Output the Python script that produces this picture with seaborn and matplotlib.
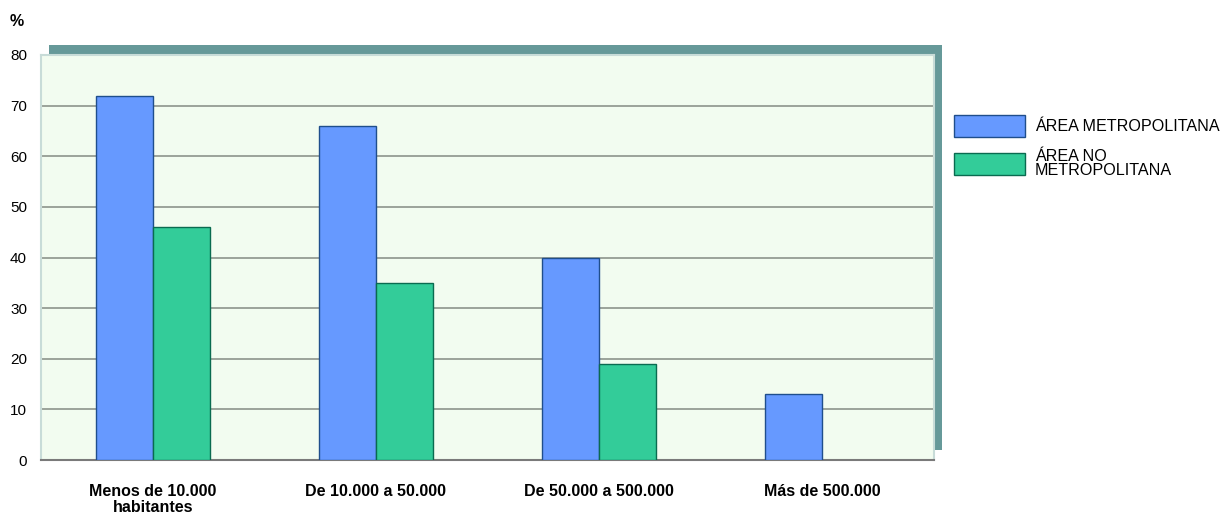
import pandas as pd
import numpy as np
import matplotlib.pyplot as plt
import seaborn as sns
from matplotlib.patches import Rectangle, Patch

categorias = ['Menos de 10.000\nhabitantes', 'De 10.000 a 50.000',
              'De 50.000 a 500.000', 'Más de 500.000']
metropolitana = [72, 66, 40, 13]
no_metropolitana = [46, 35, 19, 0]
series = ['ÁREA METROPOLITANA', 'ÁREA NO\nMETROPOLITANA']

data = pd.DataFrame({
    'cat': categorias * 2,
    'valor': metropolitana + no_metropolitana,
    'area': [series[0]] * 4 + [series[1]] * 4,
})

sns.set_style('white')
plt.rcParams['font.family'] = ['Liberation Sans', 'DejaVu Sans']
plt.rcParams['text.color'] = 'black'
plt.rcParams['xtick.color'] = 'black'
plt.rcParams['ytick.color'] = 'black'

fig = plt.figure(figsize=(12.31, 5.14), dpi=100)
W, H = 1231, 514
ax = fig.add_axes([41 / W, 1 - 460 / H, 893 / W, 405 / H])
ax.set_facecolor('#f2fcf0')

# sombra del marco (offset arriba-derecha)
fig.add_artist(Rectangle((49 / W, 1 - 450 / H), 893 / W, 405 / H,
                         transform=fig.transFigure, facecolor='#669999',
                         edgecolor='none', zorder=-1))

colores = ['#6699ff', '#33cc99']
bordes = ['#1f4e8c', '#0a6b50']
sns.barplot(data=data, x='cat', y='valor', hue='area', palette=colores,
            width=0.51, saturation=1, ax=ax, legend=False, zorder=3)

for i, cont in enumerate(ax.containers):
    for bar in cont:
        bar.set_edgecolor(bordes[i])
        bar.set_linewidth(1)
        if bar.get_height() == 0:
            bar.set_visible(False)

ax.set_ylim(0, 80)
ax.set_xlim(-0.5, 3.5)
ax.set_yticks(range(0, 81, 10))
ax.yaxis.grid(True, color='#8c948c', linewidth=1.2, zorder=0)
ax.set_axisbelow(True)
ax.tick_params(axis='y', length=0, pad=10, labelsize=11)
ax.tick_params(axis='x', length=0, pad=17, labelsize=11.5)
for lbl in ax.get_xticklabels():
    lbl.set_fontweight('bold')
    lbl.set_linespacing(1.1)
ax.set_xlabel('')
ax.set_ylabel('')

for s in ['top', 'right', 'left']:
    ax.spines[s].set_color('#c8dcd8')
    ax.spines[s].set_linewidth(1.5)
ax.spines['bottom'].set_color('#7a7a7a')
ax.spines['bottom'].set_linewidth(1.5)

fig.text(10 / W, 1 - 22 / H, '%', fontsize=11.5, fontweight='bold', va='center')

handles = [Patch(facecolor=colores[i], edgecolor=bordes[i], linewidth=1) for i in range(2)]
leg = fig.legend(handles, series, loc='upper left', bbox_to_anchor=(954 / W, 1 - 115 / H),
                 frameon=False, fontsize=11.6, handlelength=4.4, handleheight=1.7,
                 handletextpad=0.6, labelspacing=0.75, borderpad=0, borderaxespad=0)
for t in leg.get_texts():
    t.set_linespacing(0.95)

fig.savefig('out.png', dpi=100)
